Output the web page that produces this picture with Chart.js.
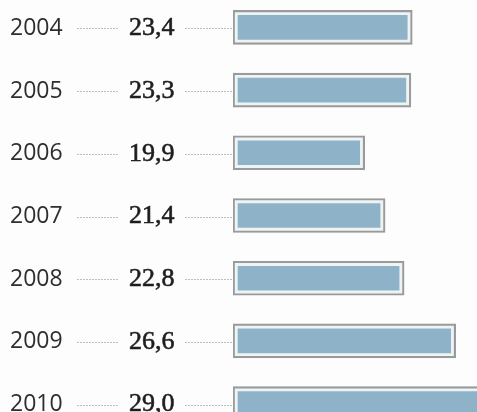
<!DOCTYPE html>
<html>
<head>
<meta charset="utf-8">
<script src="https://cdn.jsdelivr.net/npm/chart.js@4"></script>
<style>
    html, body { margin: 0; padding: 0; background: #fdfdfd; overflow: hidden; width: 477px; height: 412px; }
    #wrap { position: absolute; left: 0; top: -4px; width: 477px; height: 439px; }
</style>
</head>
<body>
<div id="wrap"><canvas id="mychart" width="477" height="439"></canvas></div>
<script>
var years = ["2004", "2005", "2006", "2007", "2008", "2009", "2010"];
var values = [23.4, 23.3, 19.9, 21.4, 22.8, 26.6, 29.0];
var valueLabels = ["23,4", "23,3", "19,9", "21,4", "22,8", "26,6", "29,0"];

var axisMin = 10.2;
var axisMax = 28.17;

// years, values and dotted leaders on the left
var labelPlugin = {
    id: 'rowLabels',
    afterDraw: function(chart) {
        var ctx = chart.ctx;
        var yScale = chart.scales.y;
        var left = chart.chartArea.left;
        ctx.save();
        for (var i = 0; i < years.length; i++) {
            var y = yScale.getPixelForValue(i);
            // leaders
            ctx.strokeStyle = '#bdbdbd';
            ctx.lineWidth = 1;
            ctx.setLineDash([2, 1]);
            ctx.beginPath();
            ctx.moveTo(77, Math.round(y) + 1.5);
            ctx.lineTo(118, Math.round(y) + 1.5);
            ctx.moveTo(185, Math.round(y) + 1.5);
            ctx.lineTo(left - 1, Math.round(y) + 1.5);
            ctx.stroke();
            ctx.setLineDash([]);
            // year
            ctx.fillStyle = '#2e2e2e';
            ctx.textBaseline = 'middle';
            ctx.textAlign = 'left';
            ctx.font = '23px "Open Sans"';
            ctx.fillText(years[i], 10, y + 1);
            // value: regular serif with a thin stroke for a medium weight
            ctx.fillStyle = '#1e1e1e';
            ctx.strokeStyle = '#1e1e1e';
            ctx.lineWidth = 0.6;
            ctx.font = '26px "Liberation Serif"';
            ctx.fillText(valueLabels[i], 129, y + 1);
            ctx.strokeText(valueLabels[i], 129, y + 1);
        }
        ctx.restore();
    }
};

var myChart = new Chart(document.getElementById('mychart'), {
    type: 'bar',
    data: {
        labels: years,
        datasets: [{
            label: 'outline',
            data: values,
            base: axisMin,
            backgroundColor: 'rgba(0,0,0,0)',
            borderColor: '#9a9a9a',
            borderWidth: 1.5,
            borderSkipped: false,
            barThickness: 34,
            grouped: false
        }, {
            label: 'fill',
            data: values,
            base: axisMin,
            backgroundColor: '#8eb3c8',
            borderColor: '#eef4f4',
            borderWidth: 5,
            borderSkipped: false,
            barThickness: 34,
            grouped: false
        }]
    },
    options: {
        indexAxis: 'y',
        responsive: false,
        devicePixelRatio: 1,
        animation: false,
        layout: { padding: { left: 233, right: 0, top: 0, bottom: 0 } },
        plugins: {
            legend: { display: false },
            tooltip: { enabled: false }
        },
        scales: {
            x: { display: false, min: axisMin, max: axisMax },
            y: { display: false }
        }
    },
    plugins: [labelPlugin]
});
</script>
</body>
</html>
